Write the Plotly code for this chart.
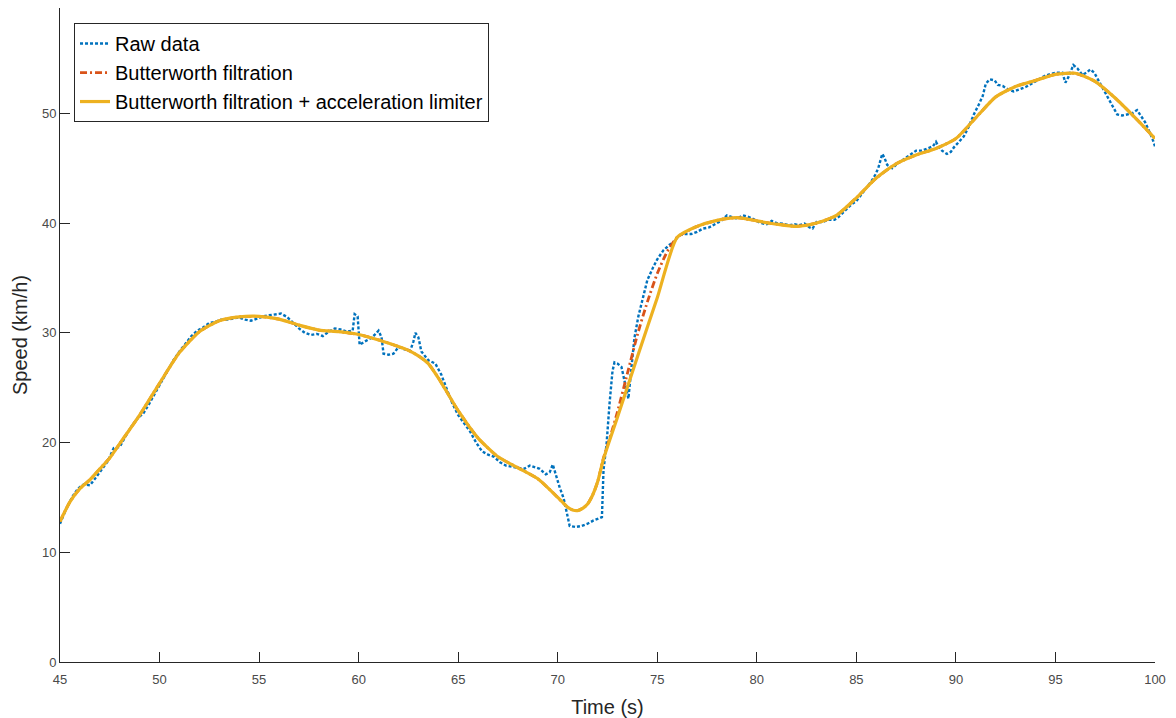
import plotly.graph_objects as go

# ---------------- data ----------------
raw_t = [45.0, 45.3, 45.6, 45.9, 46.2, 46.5, 46.8, 47.1, 47.4, 47.7, 48.0, 48.3, 48.6, 48.9,
         49.2, 49.5, 49.8, 50.1, 50.4, 50.7, 51.0, 51.3, 51.6, 51.9, 52.2, 52.5, 52.8, 53.1,
         53.4, 53.7, 54.0, 54.3, 54.6, 54.9, 55.2, 55.5, 55.8, 56.1, 56.4, 56.7, 57.0, 57.3,
         57.6, 57.9, 58.2, 58.5, 58.8, 59.1, 59.4, 59.7, 59.8, 59.95, 60.05, 60.3, 60.6, 60.8,
         61.0, 61.15, 61.25, 61.5, 61.75, 62.0, 62.3, 62.6, 62.75, 62.85, 63.0, 63.15, 63.5,
         63.85, 64.15, 64.4, 64.7, 65.0, 65.3, 65.6, 65.9, 66.2, 66.5, 66.8, 67.1, 67.4, 67.7,
         68.0, 68.3, 68.6, 68.9, 69.1, 69.4, 69.6, 69.75, 69.9, 70.1, 70.3, 70.5, 70.6, 70.9,
         71.2, 71.5, 71.8, 72.1, 72.22, 72.3, 72.45, 72.6, 72.75, 72.85, 73.0, 73.2, 73.4,
         73.55, 73.7, 73.85, 74.05, 74.3, 74.5, 74.8, 75.0, 75.3, 75.6, 75.85, 76.1, 76.4,
         76.7, 77.0, 77.3, 77.6, 77.9, 78.2, 78.5, 78.8, 79.0, 79.3, 79.6, 79.9, 80.2, 80.5,
         80.75, 81.0, 81.3, 81.6, 81.9, 82.1, 82.4, 82.65, 82.8, 83.0, 83.3, 83.6, 83.9, 84.1,
         84.3, 84.5, 84.75, 85.0, 85.25, 85.5, 85.75, 85.95, 86.1, 86.3, 86.4, 86.55, 86.8,
         87.05, 87.3, 87.5, 87.75, 88.0, 88.3, 88.6, 88.85, 89.0, 89.15, 89.3, 89.55, 89.75,
         89.9, 90.1, 90.4, 90.65, 90.9, 91.15, 91.35, 91.5, 91.7, 91.95, 92.1, 92.35, 92.6,
         92.9, 93.2, 93.5, 93.8, 94.1, 94.45, 94.75, 95.05, 95.35, 95.5, 95.65, 95.9, 96.1,
         96.35, 96.55, 96.75, 96.95, 97.1, 97.35, 97.6, 97.85, 98.1, 98.35, 98.6, 98.85, 99.1,
         99.3, 99.5, 99.7, 99.85, 100.0]
raw_v = [12.6, 13.9, 15.0, 15.8, 16.2, 16.1, 16.8, 17.6, 18.3, 19.5, 19.6, 20.6, 21.5, 22.2,
         22.7, 23.6, 24.6, 25.6, 26.6, 27.5, 28.3, 29.0, 29.7, 30.2, 30.5, 30.9, 31.0, 31.2,
         31.2, 31.3, 31.4, 31.2, 31.1, 31.3, 31.5, 31.6, 31.7, 31.75, 31.45, 30.9, 30.4, 30.0,
         29.8, 29.9, 29.7, 30.1, 30.4, 30.3, 30.1, 30.2, 31.7, 31.5, 28.9, 29.2, 29.5, 29.8,
         30.2, 29.6, 28.1, 28.0, 28.1, 28.7, 28.5, 28.4, 29.2, 30.0, 29.6, 28.3, 27.5,
         27.2, 26.2, 25.0, 23.6, 22.5, 21.7, 21.0, 20.0, 19.2, 18.9, 18.7, 18.2, 17.9, 17.8,
         17.7, 17.6, 17.9, 17.7, 17.6, 17.1, 17.3, 18.0, 17.0, 15.9, 14.9, 13.0, 12.4, 12.3,
         12.4, 12.6, 12.9, 13.1, 13.2, 17.5, 19.8, 23.5, 26.5, 27.3, 27.2, 26.9, 25.4,
         24.0, 26.8, 29.5, 31.5, 33.5, 34.8, 36.0, 36.7, 37.5, 38.0, 38.3, 38.9, 39.0,
         39.0, 39.2, 39.5, 39.6, 39.9, 40.2, 40.7, 40.5, 40.4, 40.7, 40.55, 40.3, 40.0, 39.9,
         40.2, 40.0, 39.95, 39.8, 39.9, 39.8, 39.95, 39.6, 39.5, 40.1, 40.1, 40.3, 40.3, 40.55,
         40.9, 41.3, 41.7, 42.0, 42.6, 43.3, 43.8, 44.4, 45.0, 46.3, 46.0, 45.3, 45.0,
         45.4, 45.7, 46.0, 46.3, 46.6, 46.6, 46.8, 47.0, 47.4, 46.9, 46.6, 46.3, 46.5,
         46.9, 47.3, 47.9, 48.8, 49.9, 50.8, 51.6, 52.7, 53.1, 53.0, 52.6, 52.5, 52.2,
         52.0, 52.2, 52.4, 52.7, 53.0, 53.4, 53.6, 53.7, 53.7, 52.8, 53.3, 54.4, 54.1,
         53.5, 53.7, 54.0, 53.7, 53.2, 52.5, 51.6, 50.7, 49.9, 49.8, 49.9, 50.0, 50.3,
         49.8, 49.2, 48.4, 47.8, 47.0]

filt_t = [45, 45.5, 46, 46.5, 47, 47.5, 48, 49, 50, 51, 52, 53, 54, 55, 56, 57, 58, 59, 60,
          61, 62, 62.5, 63, 63.5, 64, 64.5, 65, 66, 67, 68, 69, 70, 70.5, 70.75, 71, 71.25,
          71.5, 71.75, 72, 72.3, 72.7, 73, 73.5, 74, 74.5, 75, 75.5, 76, 77, 78, 79, 80, 81,
          82, 83, 84, 85, 86, 87, 88, 89, 90, 91, 92, 93, 94, 95, 96, 97, 98, 99, 100]
filt_v = [12.8, 14.6, 15.8, 16.6, 17.6, 18.6, 19.9, 22.5, 25.4, 28.2, 30.1, 31.1, 31.45,
          31.5, 31.25, 30.7, 30.25, 30.1, 29.85, 29.35, 28.75, 28.4, 27.9, 27.2, 25.9, 24.4,
          22.9, 20.4, 18.7, 17.7, 16.7, 15.0, 14.1, 13.85, 13.8, 14.0, 14.4, 15.2, 16.4,
          18.6, 20.9, 22.8, 26.3, 29.8, 32.8, 35.4, 37.4, 38.7, 39.7, 40.25, 40.5, 40.2,
          39.9, 39.7, 40.0, 40.7, 42.3, 44.1, 45.4, 46.2, 46.8, 47.7, 49.6, 51.5, 52.45, 53.0,
          53.55, 53.65, 52.9, 51.4, 49.6, 47.7]

lim_t = [45, 45.5, 46, 46.5, 47, 47.5, 48, 49, 50, 51, 52, 53, 54, 55, 56, 57, 58, 59, 60,
         61, 62, 62.5, 63, 63.5, 64, 64.5, 65, 66, 67, 68, 69, 70, 70.5, 70.75, 71, 71.25,
         71.5, 71.75, 72, 72.3, 73, 74, 75, 76, 77, 78, 79, 80, 81, 82, 83, 84, 85, 86, 87,
         88, 89, 90, 91, 92, 93, 94, 95, 96, 97, 98, 99, 100]
lim_v = [12.8, 14.6, 15.8, 16.6, 17.6, 18.6, 19.9, 22.5, 25.4, 28.2, 30.1, 31.1, 31.45,
         31.5, 31.25, 30.7, 30.25, 30.1, 29.85, 29.35, 28.75, 28.4, 27.9, 27.2, 25.9, 24.4,
         22.9, 20.4, 18.7, 17.7, 16.7, 15.0, 14.1, 13.85, 13.8, 14.0, 14.4, 15.2, 16.4,
         18.5, 22.3, 27.8, 33.2, 38.7, 39.7, 40.25, 40.5, 40.2, 39.9, 39.7, 40.0, 40.7,
         42.3, 44.1, 45.4, 46.2, 46.8, 47.7, 49.6, 51.5, 52.45, 53.0, 53.55, 53.65, 52.9,
         51.4, 49.6, 47.7]

x_ticks = [45, 50, 55, 60, 65, 70, 75, 80, 85, 90, 95, 100]
y_ticks = [0, 10, 20, 30, 40, 50]

# ---------------- figure ----------------
FONT = "Liberation Sans, Arial, Helvetica, sans-serif"

fig = go.Figure()
fig.add_trace(go.Scatter(x=raw_t, y=raw_v, mode="lines", name="Raw data",
                         line=dict(color="#0072BD", width=2.4, dash="3px,2px")))
fig.add_trace(go.Scatter(x=filt_t, y=filt_v, mode="lines", name="Butterworth filtration",
                         line=dict(color="#D95319", width=2.8, dash="7px,3px,2px,3px",
                                   shape="spline", smoothing=0.6)))
fig.add_trace(go.Scatter(x=lim_t, y=lim_v, mode="lines",
                         name="Butterworth filtration + acceleration limiter",
                         line=dict(color="#EDB120", width=3.2, shape="spline", smoothing=0.6)))

axis_common = dict(showline=True, linecolor="#262626", linewidth=1, ticks="inside",
                   ticklen=10, tickcolor="#262626", tickwidth=1, showgrid=False,
                   zeroline=False, mirror=False, automargin=False,
                   tickfont=dict(family=FONT, size=13, color="#4a4a4a"))

fig.update_layout(
    width=1176, height=718,
    margin=dict(l=60, r=21, t=8, b=56),
    paper_bgcolor="white", plot_bgcolor="white",
    xaxis=dict(range=[45, 100], tickvals=x_ticks, ticklabelstandoff=5,
               title=dict(text="Time (s)", standoff=14,
                          font=dict(family=FONT, size=20, color="#262626")),
               **axis_common),
    yaxis=dict(range=[0, 59.6], tickvals=y_ticks,
               title=dict(text="Speed (km/h)", standoff=8,
                          font=dict(family=FONT, size=20, color="#262626")),
               **axis_common),
    legend=dict(x=0.0128, y=0.977, xanchor="left", yanchor="top",
                bgcolor="white", bordercolor="#262626", borderwidth=1,
                font=dict(family=FONT, size=20, color="#000000"),
                itemwidth=30, tracegroupgap=0),
    showlegend=True,
)

fig.write_html("out.html")
